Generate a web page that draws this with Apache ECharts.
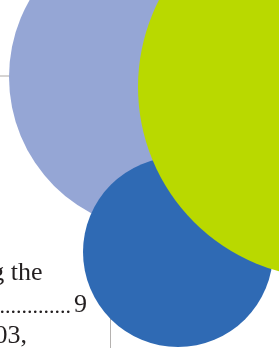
<!DOCTYPE html>
<html>
<head>
<meta charset="utf-8">
<script src="https://cdn.jsdelivr.net/npm/echarts@6/dist/echarts.min.js"></script>
<style>
html,body{margin:0;padding:0;background:#fff;}
#c{width:279px;height:348px;}
</style>
</head>
<body>
<div id="c"></div>
<script>
// Circle data (x, y in page units, radius)
const circleNames = ['lavender', 'blue', 'green'];
const circleX = [163, 178, 329];
const circleY = [77, 252, 87];
const circleR = [154, 95, 191];
const circleColors = ['#95a6d5', '#2f6ab4', '#b9d900'];
// Text fragments
const textLines = ['g the', '..............', '9', '03,'];

const chart = echarts.init(document.getElementById('c'), null, {renderer: 'canvas'});
const series = circleNames.map((n, i) => ({
  name: n,
  type: 'scatter',
  z: 2 + i,
  silent: true,
  clip: false,
  symbol: 'circle',
  symbolSize: circleR[i] * 2,
  itemStyle: {color: circleColors[i], opacity: 1},
  data: [[circleX[i], circleY[i]]]
}));
const ts = {fontSize: 26, fontFamily: 'Liberation Serif', fill: '#231f20', align: 'right', verticalAlign: 'top'};
chart.setOption({
  animation: false,
  backgroundColor: '#ffffff',
  grid: {left: 0, right: 0, top: 0, bottom: 0},
  xAxis: {type: 'value', min: 0, max: 279, show: false},
  yAxis: {type: 'value', min: 0, max: 348, inverse: true, show: false},
  graphic: [
    {type: 'line', z: 1, shape: {x1: 0, y1: 76, x2: 12, y2: 76}, style: {stroke: '#c8c6c4', lineWidth: 1.5}},
    {type: 'line', z: 1, shape: {x1: 110.5, y1: 318, x2: 110.5, y2: 348}, style: {stroke: '#b5b2b0', lineWidth: 1}},
    {type: 'text', z: 10, style: Object.assign({}, ts, {text: textLines[0], x: 42.5, y: 260.5})},
    {type: 'text', z: 10, style: Object.assign({}, ts, {text: textLines[1], x: 71, y: 296, fontSize: 22})},
    {type: 'text', z: 10, style: Object.assign({}, ts, {text: textLines[2], x: 87, y: 292.5})},
    {type: 'text', z: 10, style: Object.assign({}, ts, {text: textLines[3], x: 27, y: 323})}
  ],
  series: series
});
</script>
</body>
</html>
